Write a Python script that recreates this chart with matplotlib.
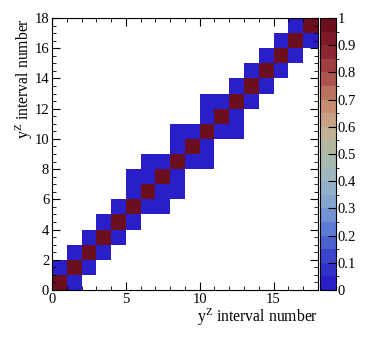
import numpy as np
import matplotlib
matplotlib.use("Agg")
import matplotlib.pyplot as plt
from matplotlib.colors import LinearSegmentedColormap, BoundaryNorm
from matplotlib.ticker import MultipleLocator

plt.rcParams['font.family'] = 'Liberation Serif'
plt.rcParams['mathtext.fontset'] = 'custom'
plt.rcParams['mathtext.rm'] = 'Liberation Serif'
plt.rcParams['mathtext.it'] = 'Liberation Serif:italic'

n_bins = 18
# non-empty cells per row (y bin): diagonal plus off-diagonal x bins
diag_value = 0.97
off_value = 0.02
row_offdiag = {
    0: [1],
    1: [0, 2],
    2: [1, 3],
    3: [2, 4],
    4: [3, 5],
    5: [4, 6, 7],
    6: [5, 7, 8],
    7: [5, 6, 8],
    8: [6, 7, 9, 10],
    9: [8, 10],
    10: [8, 9, 11, 12],
    11: [10, 12],
    12: [10, 11, 13],
    13: [12, 14],
    14: [13, 15],
    15: [14, 16],
    16: [15, 17],
    17: [16],
}

z = np.zeros((n_bins, n_bins))
for iy in range(n_bins):
    z[iy, iy] = diag_value
    for ix in row_offdiag[iy]:
        z[iy, ix] = off_value
z = np.ma.masked_equal(z, 0)

cmap_colors = ['#2a1ec8', '#3a45cc', '#5a78d2', '#80a2d2', '#9cb8c6',
               '#adb9a6', '#c8b090', '#c48469', '#aa4e4a', '#8a2432', '#6c0e1e']
cmap = LinearSegmentedColormap.from_list('root_temp', cmap_colors)
levels = np.linspace(0, 1, 21)
norm = BoundaryNorm(levels, cmap.N)

fig = plt.figure(figsize=(3.74, 3.46), dpi=100)
ax = fig.add_axes([0.139, 0.162, 0.711, 0.786])
edges = np.arange(n_bins + 1)
mesh = ax.pcolormesh(edges, edges, z, cmap=cmap, norm=norm)
ax.set_xlim(0, 18)
ax.set_ylim(0, 18)

ax.xaxis.set_major_locator(MultipleLocator(5))
ax.xaxis.set_minor_locator(MultipleLocator(1))
ax.yaxis.set_major_locator(MultipleLocator(2))
ax.yaxis.set_minor_locator(MultipleLocator(0.5))
ax.tick_params(which='both', direction='in', top=True, right=True, labelsize=10.5, pad=2)
ax.tick_params(which='major', length=6)
ax.tick_params(which='minor', length=3)

ax.set_xlabel(r'y$^{\mathrm{Z}}$ interval number', fontsize=11.3, loc='right', labelpad=1)
ax.set_ylabel(r'y$^{\mathrm{Z}}$ interval number', fontsize=11.3, loc='top', labelpad=0)

cax = fig.add_axes([0.856, 0.162, 0.042, 0.786])
cb = fig.colorbar(mesh, cax=cax, ticks=np.linspace(0, 1, 11))
cb.outline.set_linewidth(0.8)
cb.ax.set_yticklabels(['0', '0.1', '0.2', '0.3', '0.4', '0.5', '0.6', '0.7', '0.8', '0.9', '1'])
cb.ax.tick_params(direction='in', length=6, labelsize=10.5, pad=1)

fig.savefig('out.png', dpi=100)
